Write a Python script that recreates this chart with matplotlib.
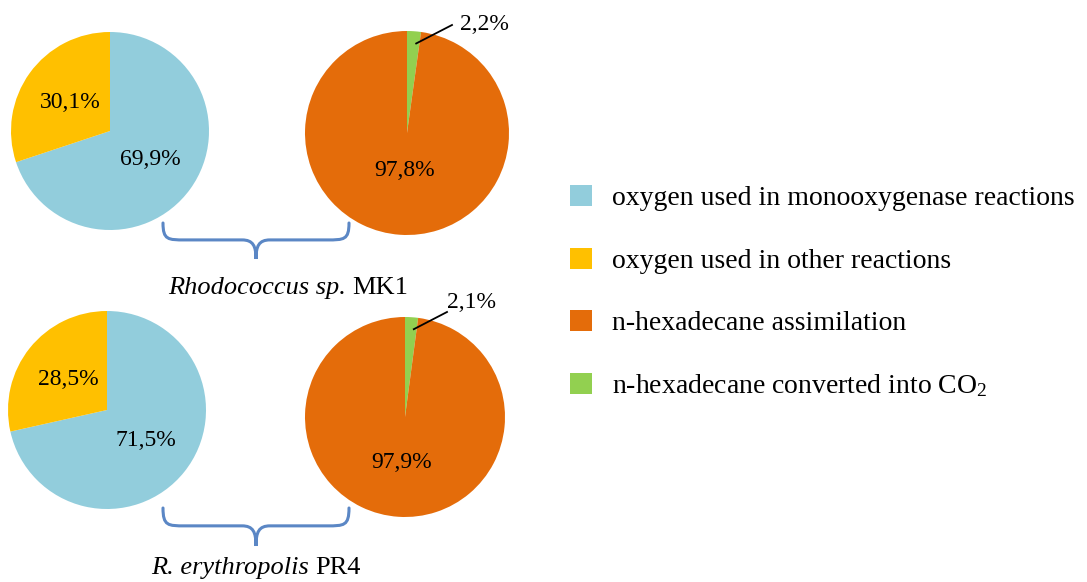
import numpy as np
import matplotlib.pyplot as plt
from matplotlib.patches import Patch, PathPatch
from matplotlib.path import Path
from matplotlib.offsetbox import TextArea, HPacker, AnnotationBbox

plt.rcParams['font.family'] = ['Liberation Serif', 'DejaVu Serif']
plt.rcParams['mathtext.fontset'] = 'custom'
plt.rcParams['mathtext.rm'] = 'Liberation Serif'
plt.rcParams['mathtext.it'] = 'Liberation Serif:italic'

# data
strain_genus = ["Rhodococcus sp.", "R. erythropolis"]
strain_code = ["MK1", "PR4"]
oxygen_mono = [69.9, 71.5]
oxygen_other = [30.1, 28.5]
hexadecane_assim = [97.8, 97.9]
hexadecane_co2 = [2.2, 2.1]
legend_labels = ["oxygen used in monooxygenase reactions",
                 "oxygen used in other reactions",
                 "n-hexadecane assimilation",
                 r"n-hexadecane converted into CO$_\mathregular{2}$"]
colors = ["#92CDDC", "#FFC000", "#E46C0A", "#92D050"]

W, H = 1087, 582
fig = plt.figure(figsize=(W / 100, H / 100), dpi=100)
ax = fig.add_axes([0, 0, 1, 1])


def fy(y):
    # pixel row (from top) -> data y
    return H - y


def pct(v):
    return f"{v:.1f}".replace(".", ",") + "%"


def brace(x0, x1, ytop, depth, color="#5B87C5"):
    xm = (x0 + x1) / 2
    yh = ytop + depth * 0.47
    yt = ytop + depth
    verts = [(x0, fy(ytop)),
             (x0, fy(yh)), (x0 + 5, fy(yh)), (x0 + 22, fy(yh)),
             (xm - 14, fy(yh)),
             (xm - 3, fy(yh)), (xm, fy(yh + 6)), (xm, fy(yt)),
             (xm, fy(yh + 6)), (xm + 3, fy(yh)), (xm + 14, fy(yh)),
             (x1 - 22, fy(yh)),
             (x1 - 5, fy(yh)), (x1, fy(yh)), (x1, fy(ytop))]
    codes = [Path.MOVETO,
             Path.CURVE4, Path.CURVE4, Path.CURVE4,
             Path.LINETO,
             Path.CURVE4, Path.CURVE4, Path.CURVE4,
             Path.CURVE4, Path.CURVE4, Path.CURVE4,
             Path.LINETO,
             Path.CURVE4, Path.CURVE4, Path.CURVE4]
    ax.add_patch(PathPatch(Path(verts, codes), fill=False, ec=color, lw=2.2,
                           capstyle='round'))


# layout (pixels)
left_c = [(110, 131), (107, 410)]
left_r = [99, 99]
right_c = [(407, 133), (405, 417)]
right_r = [102, 100]
right_pctd = [0.37, 0.46]
small_txt = [(484, 25), (472, 303)]
small_end = [(452, 25), (447, 312)]
brace_pos = [(163, 349, 223, 36), (163, 349, 508, 38)]
name_pos = [(288, 288), (256, 568)]

for i in range(2):
    cx, cy = left_c[i]
    w, t = ax.pie([oxygen_mono[i], oxygen_other[i]], colors=colors[:2],
                  startangle=90, counterclock=False, center=(cx, fy(cy)),
                  radius=left_r[i])
    for v, wd in zip([oxygen_mono[i], oxygen_other[i]], w):
        ang = np.deg2rad((wd.theta1 + wd.theta2) / 2)
        d = 0.5 * left_r[i]
        ax.text(cx + d * np.cos(ang), fy(cy) + d * np.sin(ang), pct(v),
                ha='center', va='center', fontsize=17)

    cx, cy = right_c[i]
    w, t = ax.pie([hexadecane_co2[i], hexadecane_assim[i]],
                  colors=[colors[3], colors[2]], startangle=90,
                  counterclock=False, center=(cx, fy(cy)), radius=right_r[i])
    ang = np.deg2rad((w[1].theta1 + w[1].theta2) / 2)
    d = right_pctd[i] * right_r[i]
    ax.text(cx + d * np.cos(ang), fy(cy) + d * np.sin(ang),
            pct(hexadecane_assim[i]), ha='center', va='center', fontsize=17)
    ang = np.deg2rad((w[0].theta1 + w[0].theta2) / 2)
    d = 0.88 * right_r[i]
    sx, sy = cx + d * np.cos(ang) + 3, fy(cy) + d * np.sin(ang)
    ex, ey = small_end[i]
    ax.plot([sx, ex], [sy, fy(ey)], color='black', lw=1.3)
    ax.text(small_txt[i][0], fy(small_txt[i][1]), pct(hexadecane_co2[i]),
            ha='center', va='center', fontsize=17)

    brace(*brace_pos[i])
    name = HPacker(children=[
        TextArea(strain_genus[i], textprops=dict(fontsize=19, fontstyle='italic')),
        TextArea(strain_code[i], textprops=dict(fontsize=19))],
        sep=5, pad=0, align='baseline')
    ax.add_artist(AnnotationBbox(name, (name_pos[i][0], fy(name_pos[i][1])),
                                 frameon=False, box_alignment=(0.5, 0.5),
                                 pad=0))

ax.set_xlim(0, W)
ax.set_ylim(0, H)
ax.set_aspect('equal')
ax.axis('off')

handles = [Patch(fc=c, ec='none') for c in colors]
fig.legend(handles, legend_labels, loc='upper left',
           bbox_to_anchor=(559 / W, 1 - 174 / H), frameon=False, fontsize=20,
           handlelength=0.8, handleheight=0.8, handletextpad=0.7,
           labelspacing=1.3, borderaxespad=0)

fig.savefig("out.png", dpi=100)
